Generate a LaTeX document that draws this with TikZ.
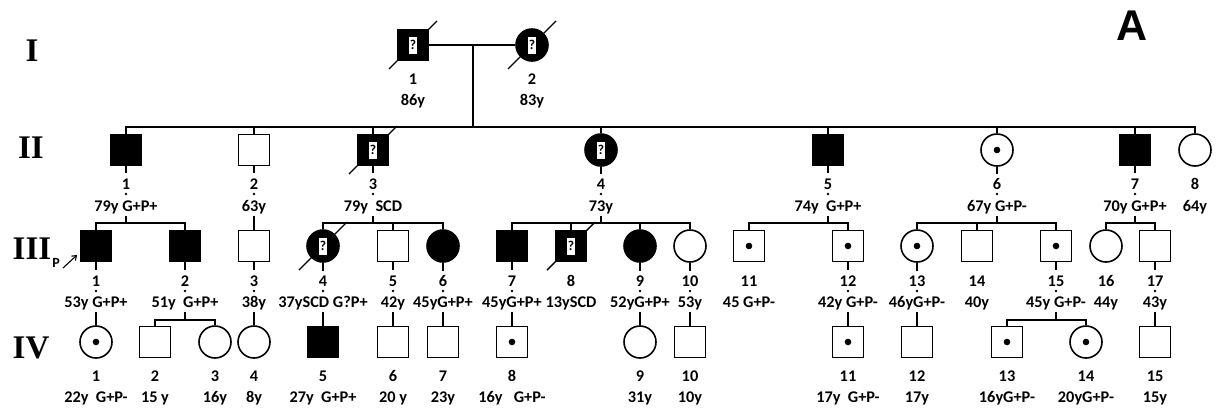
\documentclass[tikz,border=0pt]{standalone}
\usepackage{fontspec}
\setmainfont{Carlito}
\newfontfamily\romfont{Liberation Serif}
\newfontfamily\afont{Liberation Sans}
\usetikzlibrary{arrows.meta,calc}
\begin{document}
\begin{tikzpicture}[x=1pt,y=-1pt,line width=1.6pt,
  sq/.style={draw,rectangle,minimum width=31pt,minimum height=31pt,inner sep=0pt,fill=white},
  ci/.style={draw,circle,minimum size=32pt,inner sep=0pt,fill=white},
  aff/.style={fill=black},
  carr/.style={path picture={\fill[black] (path picture bounding box.center) circle (3.3pt);}},
  qbox/.style={fill=white,inner sep=0pt,minimum width=8.5pt,minimum height=17pt,font=\bfseries\fontsize{13.5}{13.5}\selectfont},
  lbl/.style={anchor=base,inner sep=0pt,font=\bfseries\fontsize{16.3}{17}\selectfont},
  gen/.style={inner sep=0pt,font=\romfont\bfseries\fontsize{33}{33}\selectfont},
  sdot/.style={fill=black},
  dec/.style={line width=1.4pt}
]
\useasboundingbox (0,0) rectangle (1216,408);
% helper rows
\coordinate (rIdot) at (0,194);
\coordinate (rIIlow) at (0,216);
\coordinate (rIIIsib) at (0,223);
\coordinate (rIIIdot) at (0,291);
\coordinate (rIIIlow) at (0,312);
\coordinate (rIVsib) at (0,320);
\coordinate (rIIsib) at (0,127);

% generation labels
\node[gen] (gI) at (32,51) {I};
\node[gen] (gII) at (31,148) {II};
\node[gen] (gIII) at (32,249) {III};
\node[gen] (gIV) at (31,348) {IV};
\node[inner sep=0pt,font=\bfseries\fontsize{14}{14}\selectfont] (pP) at (56,263) {P};
\node[inner sep=0pt,font=\afont\bfseries\fontsize{43}{43}\selectfont] (pA) at (1132,26) {A};

% ---------- Generation I ----------
\node[sq,aff] (i1) at (413,45) {};
\node[ci,aff] (i2) at (532,45) {};
\node[lbl] (i1n) at (413,84) {1};
\node[lbl] (i1a) at (413,105) {86y};
\node[lbl] (i2n) at (532,84) {2};
\node[lbl] (i2a) at (532,105) {83y};

% ---------- Generation II ----------
\node[sq,aff] (ii1) at (126,150) {};
\node[sq] (ii2) at (254,150) {};
\node[sq,aff] (ii3) at (373,150) {};
\node[ci,aff] (ii4) at (601,150) {};
\node[sq,aff] (ii5) at (828,150) {};
\node[ci,carr] (ii6) at (997,150) {};
\node[sq,aff] (ii7) at (1135,150) {};
\node[ci] (ii8) at (1195,150) {};
\foreach \n/\x/\a in {1/126/79y G+P+, 2/254/63y, 3/373/79y~~SCD, 4/601/73y, 5/828/74y~~G+P+, 6/997/67y G+P-, 7/1135/70y G+P+, 8/1195/64y}{
  \node[lbl] (ii\n n) at (\x,189) {\n};
  \node[lbl] (ii\n a) at (\x,211) {\a};
}

% ---------- Generation III ----------
\node[sq,aff] (iii1) at (96,246) {};
\node[sq,aff] (iii2) at (185,246) {};
\node[sq] (iii3) at (254,246) {};
\node[ci,aff] (iii4) at (323,246) {};
\node[sq] (iii5) at (393,246) {};
\node[ci,aff] (iii6) at (443,246) {};
\node[sq,aff] (iii7) at (512,246) {};
\node[sq,aff] (iii8) at (571,246) {};
\node[ci,aff] (iii9) at (640,246) {};
\node[ci] (iii10) at (690,246) {};
\node[sq,carr] (iii11) at (749,246) {};
\node[sq,carr] (iii12) at (848,246) {};
\node[ci,carr] (iii13) at (917,246) {};
\node[sq] (iii14) at (977,246) {};
\node[sq,carr] (iii15) at (1056,246) {};
\node[ci] (iii16) at (1106,246) {};
\node[sq] (iii17) at (1155,246) {};
\foreach \n/\x/\a in {1/96/53y G+P+, 2/185/51y~~G+P+, 3/254/38y, 4/323/37ySCD G?P+, 5/393/42y, 6/443/45yG+P+, 7/512/45yG+P+, 8/571/13ySCD, 9/640/52yG+P+, 10/690/53y, 11/749/45 G+P-, 12/848/42y G+P-, 13/917/46yG+P-, 14/977/40y, 15/1056/45y G+P-, 16/1106/44y, 17/1155/43y}{
  \node[lbl] (iii\n n) at (\x,286) {\n};
  \node[lbl] (iii\n a) at (\x,307) {\a};
}

% ---------- Generation IV ----------
\node[ci,carr] (iv1) at (96,342) {};
\node[sq] (iv2) at (155,342) {};
\node[ci] (iv3) at (215,342) {};
\node[ci] (iv4) at (254,342) {};
\node[sq,aff] (iv5) at (323,342) {};
\node[sq] (iv6) at (393,342) {};
\node[sq] (iv7) at (443,342) {};
\node[sq,carr] (iv8) at (512,342) {};
\node[ci] (iv9) at (640,342) {};
\node[sq] (iv10) at (690,342) {};
\node[sq,carr] (iv11) at (848,342) {};
\node[sq] (iv12) at (917,342) {};
\node[sq,carr] (iv13) at (1007,342) {};
\node[ci,carr] (iv14) at (1086,342) {};
\node[sq] (iv15) at (1155,342) {};
\foreach \n/\x/\a in {1/96/22y~~G+P-, 2/155/15 y, 3/215/16y, 4/254/8y, 5/323/27y~~G+P+, 6/393/20 y, 7/443/23y, 8/512/16y~~~G+P-, 9/640/31y, 10/690/10y, 11/848/17y~~G+P-, 12/917/17y, 13/1007/16yG+P-, 14/1086/20yG+P-, 15/1155/15y}{
  \node[lbl] (iv\n n) at (\x,381) {\n};
  \node[lbl] (iv\n a) at (\x,402) {\a};
}

% ---------- deceased diagonals ----------
\foreach \p in {i1,i2,ii3,iii4,iii8}{
  \draw[dec] ($(\p)+(-24,24)$) -- ($(\p)+(24,-24)$);
}
% unknown status boxes
\foreach \p in {i1,i2,ii3,ii4,iii4,iii8}{
  \node[qbox] (q\p) at (\p) {?};
}

% ---------- connectors ----------
% marriage I-1 x I-2
\coordinate (mI) at (473,45);
\draw (i1.east) -- (i2.west);
\draw (mI) -- (mI |- rIIsib);
% sibship II
\draw (ii1.north) -- (ii1.north |- rIIsib) -- (ii8.north |- rIIsib) -- (ii8.north);
\foreach \p in {ii2,ii3,ii4,ii5,ii6,ii7}{\draw (\p.north) -- (\p.north |- rIIsib);}
% stubs below II parents
\foreach \p in {ii1,ii2,ii3,ii4,ii5,ii6,ii7}{
  \draw (\p.south) -- ++(0,7);
  \fill[sdot] (\p |- rIdot) circle (1.3pt);
  \draw (\p |- rIIlow) -- (\p |- rIIIsib);
}
% sibships III
\draw (iii1.north) -- (iii1.north |- rIIIsib) -- (iii2.north |- rIIIsib) -- (iii2.north);
\draw (iii3.north) -- (iii3.north |- rIIIsib);
\draw (iii4.north) -- (iii4.north |- rIIIsib) -- (iii6.north |- rIIIsib) -- (iii6.north);
\draw (iii5.north) -- (iii5.north |- rIIIsib);
\draw (iii7.north) -- (iii7.north |- rIIIsib) -- (iii10.north |- rIIIsib) -- (iii10.north);
\foreach \p in {iii8,iii9}{\draw (\p.north) -- (\p.north |- rIIIsib);}
\draw (iii11.north) -- (iii11.north |- rIIIsib) -- (iii12.north |- rIIIsib) -- (iii12.north);
\draw (iii13.north) -- (iii13.north |- rIIIsib) -- (iii15.north |- rIIIsib) -- (iii15.north);
\draw (iii14.north) -- (iii14.north |- rIIIsib);
\draw (iii16.north) -- (iii16.north |- rIIIsib) -- (iii17.north |- rIIIsib) -- (iii17.north);
% stubs below III parents
\foreach \p in {iii1,iii2,iii3,iii4,iii5,iii6,iii7,iii9,iii10,iii12,iii13,iii15,iii17}{
  \draw (\p.south) -- ++(0,8);
  \fill[sdot] (\p |- rIIIdot) circle (1.3pt);
}
% III -> IV single children
\foreach \a/\b in {iii1/iv1,iii3/iv4,iii4/iv5,iii5/iv6,iii6/iv7,iii7/iv8,iii9/iv9,iii10/iv10,iii12/iv11,iii13/iv12,iii17/iv15}{
  \draw (\a |- rIIIlow) -- (\b.north);
}
% III -> IV sibships
\draw (iii2 |- rIIIlow) -- (iii2 |- rIVsib);
\draw (iv2.north) -- (iv2.north |- rIVsib) -- (iv3.north |- rIVsib) -- (iv3.north);
\draw (iii15 |- rIIIlow) -- (iii15 |- rIVsib);
\draw (iv13.north) -- (iv13.north |- rIVsib) -- (iv14.north |- rIVsib) -- (iv14.north);

% proband arrow
\coordinate (arS) at (63,268);
\coordinate (arE) at (77,255);
\draw[line width=1.1pt,-{Straight Barb[length=4pt,width=6pt]}] (arS) -- (arE);
\end{tikzpicture}
\end{document}
